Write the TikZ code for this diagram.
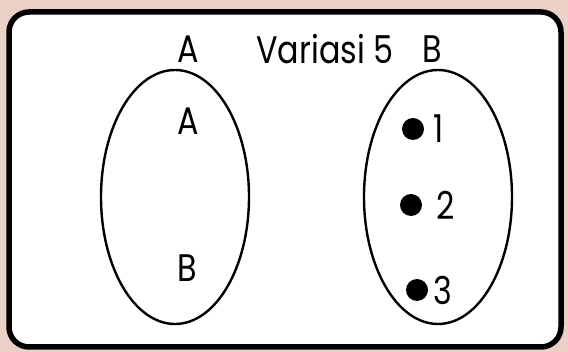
\documentclass[tikz,border=0pt]{standalone}
\usepackage{fontspec}
\setmainfont{Poppins}
\usetikzlibrary{positioning,shapes.geometric}
\definecolor{bgpink}{HTML}{EBD0C7}
\newcommand{\tallword}[1]{\scalebox{1.06}[1.28]{#1}}
\begin{document}
\begin{tikzpicture}[
        x=1pt, y=-1pt,
        every node/.style={font=\fontsize{30}{30}\selectfont, inner sep=0pt},
        setbox/.style={ellipse, draw, line width=2.4pt, minimum width=148pt, minimum height=254pt},
        dot/.style={circle, fill, minimum size=22pt},
      ]
      \fill[bgpink] (0,0) rectangle (568,352);
      \draw[line width=5.5pt, fill=white, rounded corners=20pt] (9,12) rectangle (561,347);

      % the two sets
      \node[setbox] (left) at (175,197) {};
      \node[setbox] (right) at (438,197) {};

      % headings
      \node (headA) at (188,49) {\tallword{A}};
      \node (title) at (325,49) {\tallword{Variasi 5}};
      \node (headB) at (432,49) {\tallword{B}};

      % members of A
      \node (memA) at (188,121) {\tallword{A}};
      \node (memB) at (187,268) {\tallword{B}};

      % members of B
      \node[dot] (d1) at (413,129) {};
      \node[right=9pt of d1] (n1) {\tallword{1}};
      \node[dot] (d2) at (411,205) {};
      \node[right=14pt of d2] (n2) {\tallword{2}};
      \node[dot] (d3) at (417,290) {};
      \node[right=5pt of d3] (n3) {\tallword{3}};
    \end{tikzpicture}
\end{document}
